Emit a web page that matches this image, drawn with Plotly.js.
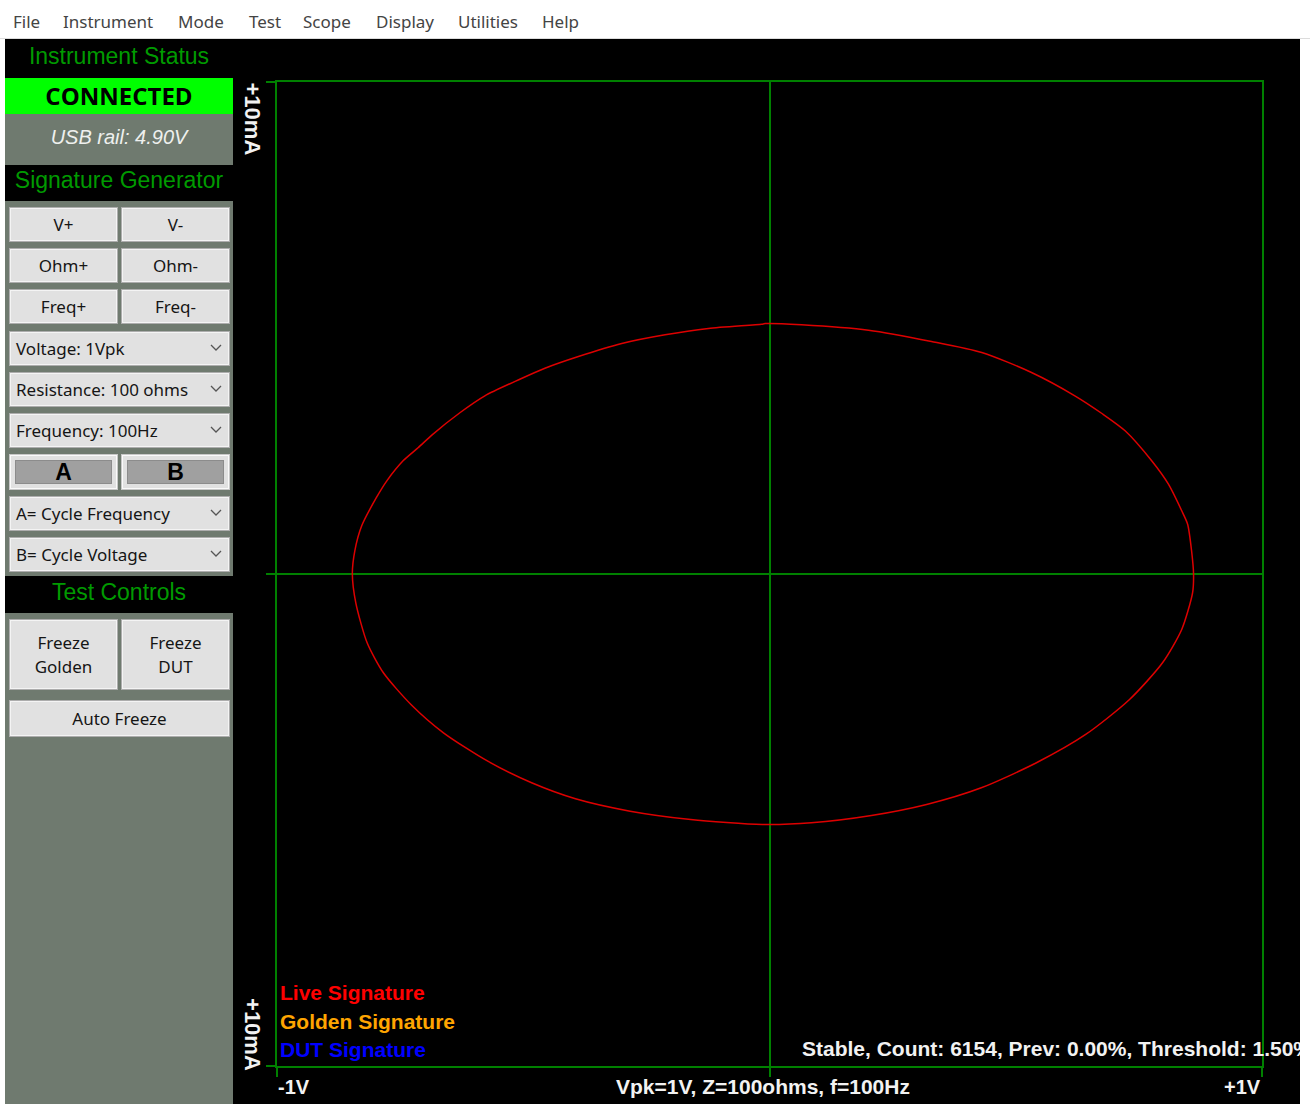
<!DOCTYPE html>
<html><head><meta charset="utf-8">
<script src="https://cdn.plot.ly/plotly-3.0.1.min.js"></script>
<style>
html,body{margin:0;padding:0;width:1310px;height:1104px;overflow:hidden;background:#fff;font-family:"Noto Sans",sans-serif;}
.abs{position:absolute;box-sizing:border-box;}
#menubar{left:0;top:0;width:1310px;height:39px;background:#fff;border-bottom:1px solid #dcdcdc;}
.menu{position:absolute;top:10px;font-size:17px;line-height:24px;color:#444;font-family:"Noto Sans",sans-serif;white-space:nowrap;}
#panel{left:5px;top:39px;width:228px;height:1065px;background:#6f7a6f;}
.hdr{background:#000;color:#009a00;font-family:"Liberation Sans",Arial,sans-serif;font-size:23px;display:flex;align-items:center;justify-content:center;white-space:nowrap;padding-bottom:5px;}
.btn{background:#e1e1e1;border:1px solid #adadad;box-shadow:inset 0 0 0 1px #f4f4f4;font-family:"Noto Sans",sans-serif;font-size:17px;color:#151515;display:flex;align-items:center;justify-content:center;text-align:center;line-height:24px;white-space:nowrap;}
.dd{justify-content:flex-start;padding-left:6px;}
.chev{position:absolute;right:7px;top:12px;}
.ab{background:#e1e1e1;border:1px solid #c8c8c8;box-shadow:inset 0 0 0 1px #fafafa;}
.abin{position:absolute;left:5px;top:5px;right:5px;bottom:5px;background:#a0a0a0;border:1px solid #8c8c8c;display:flex;align-items:center;justify-content:center;font-family:"Liberation Sans",Arial,sans-serif;font-weight:bold;font-size:23px;color:#000;}
#plot{left:233px;top:39px;width:1067px;height:1065px;background:#000;}
</style>
</head><body>
<div id="menubar" class="abs"></div>
<div id="panel" class="abs"></div>
<div id="plot" class="abs"></div>
<script>
// ---------- data ----------
const menuItems = ['File','Instrument','Mode','Test','Scope','Display','Utilities','Help'];
const panelHeaders = ['Instrument Status','Signature Generator','Test Controls'];
const statusText = 'CONNECTED';
const railText = 'USB rail: 4.90V';
const genButtons = [['V+','V-'],['Ohm+','Ohm-'],['Freq+','Freq-']];
const genDropdowns = ['Voltage: 1Vpk','Resistance: 100 ohms','Frequency: 100Hz'];
const abButtons = ['A','B'];
const cycleDropdowns = ['A= Cycle Frequency','B= Cycle Voltage'];
const testButtons = ['Freeze<br>Golden','Freeze<br>DUT'];
const autoButton = 'Auto Freeze';

// live V-I signature (volts, milliamps)
const liveVoltage = [-0.009,0.065,0.201,0.329,0.431,0.532,0.620,0.675,0.722,0.776,0.810,0.837,0.849,0.857,0.861,
  0.859,0.837,0.798,0.731,0.642,0.542,0.430,0.319,0.207,0.085,-0.015,-0.160,-0.283,-0.394,-0.483,-0.572,-0.662,-0.728,-0.784,-0.817,-0.840,-0.847,
  -0.842,-0.828,-0.798,-0.777,-0.744,-0.713,-0.685,-0.628,-0.578,-0.507,-0.456,-0.388,-0.300,-0.212,-0.124,-0.016,-0.009];
const liveCurrent = [5.09,5.065,4.955,4.726,4.502,4.096,3.622,3.262,2.911,2.301,1.825,1.285,1.012,0.472,0.0,
  -0.382,-1.128,-1.805,-2.551,-3.262,-3.837,-4.346,-4.685,-4.909,-5.057,-5.091,-4.990,-4.821,-4.569,-4.244,-3.805,-3.228,-2.652,-2.008,-1.398,-0.585,0.0,
  0.472,0.980,1.555,1.894,2.301,2.571,2.829,3.283,3.622,3.959,4.183,4.421,4.685,4.862,4.990,5.077,5.09];

const xRange = [-1, 1];
const yRange = [-10, 10];
const xTicks = [-1, 0, 1];
const yTicks = [-10, 0, 10];
const xLabels = ['-1V', 'Vpk=1V, Z=100ohms, f=100Hz', '+1V'];
const yLabels = ['+10mA', '+10mA'];
const legendLabels = ['Live Signature','Golden Signature','DUT Signature'];
const statusLine = 'Stable, Count: 6154, Prev: 0.00%, Threshold: 1.50%';

// ---------- menu ----------
const menuX = [13,63,178,249,303,376,458,542];
const mb = document.getElementById('menubar');
menuItems.forEach((m,i)=>{const d=document.createElement('div');d.className='menu';d.style.left=menuX[i]+'px';d.textContent=m;mb.appendChild(d);});

// ---------- left panel ----------
const panel = document.getElementById('panel');
function box(cls,l,t,w,h,html){const d=document.createElement('div');d.className='abs '+cls;d.style.left=l+'px';d.style.top=t+'px';d.style.width=w+'px';d.style.height=h+'px';if(html!==undefined)d.innerHTML=html;panel.appendChild(d);return d;}
const chev='<svg class="chev" width="12" height="8" viewBox="0 0 12 8"><polyline points="1,1 6,6 11,1" fill="none" stroke="#555" stroke-width="1.3"/></svg>';
// panel coords are relative to (5,39)
box('hdr',0,0,228,39,panelHeaders[0]);
const c=box('',0,39,228,36,statusText);
c.style.cssText+='background:#00ff00;display:flex;align-items:center;justify-content:center;font-family:"Open Sans",sans-serif;font-weight:bold;font-size:24px;color:#000;padding-bottom:2px;';
const r=box('',0,75,228,51,railText);
r.style.cssText+='display:flex;align-items:center;justify-content:center;font-family:"Liberation Sans",Arial,sans-serif;font-style:italic;font-size:20px;color:#eef0ee;padding-bottom:4px;';
box('hdr',0,126,228,36,panelHeaders[1]);
const rowTops=[168,209,250];
genButtons.forEach((row,i)=>{box('btn',4,rowTops[i],109,35,row[0]);box('btn',116,rowTops[i],109,35,row[1]);});
const ddTops=[292,333,374];
genDropdowns.forEach((t,i)=>{const d=box('btn dd',4,ddTops[i],221,35,t+chev);});
abButtons.forEach((t,i)=>{const d=box('ab',4+i*112,415,109,36,'');const inn=document.createElement('div');inn.className='abin';inn.textContent=t;d.appendChild(inn);});
const cTops=[457,498];
cycleDropdowns.forEach((t,i)=>{box('btn dd',4,cTops[i],221,35,t+chev);});
box('hdr',0,537,228,37,panelHeaders[2]);
testButtons.forEach((t,i)=>{box('btn',4+i*112,580,109,71,t);});
box('btn',4,661,221,37,autoButton);

// ---------- scope plot ----------
const G = '#008000';
const trace = {x: liveVoltage, y: liveCurrent, type:'scatter', mode:'lines',
  line:{color:'#dd0000', width:1.5, shape:'spline', smoothing:0.7}, hoverinfo:'skip'};
const fBold = (size,color)=>({family:'"Liberation Sans", Arial, sans-serif', size:size, color:color, weight:700});
const annotations = [
  {text:legendLabels[0], x:0.002, y:0.0742, font:fBold(21,'#ff0000')},
  {text:legendLabels[1], x:0.002, y:0.0457, font:fBold(21,'#ffa500')},
  {text:legendLabels[2], x:0.002, y:0.0163, font:fBold(21,'#0000ff')},
  {text:statusLine, x:0.532, y:0.0173, font:fBold(21,'#f2f2f2')},
  {text:xLabels[0], x:0.0, y:-0.0213, font:fBold(20,'#f2f2f2')},
  {text:xLabels[1], x:0.3431, y:-0.0213, font:fBold(21,'#f2f2f2')},
  {text:xLabels[2], x:1.0, y:-0.0213, xanchor:'right', font:fBold(20,'#f2f2f2')},
  {text:yLabels[0], x:-0.0244, y:0.9619, xanchor:'center', textangle:90, font:fBold(22,'#f2f2f2')},
  {text:yLabels[1], x:-0.0244, y:0.0315, xanchor:'center', textangle:90, font:fBold(22,'#f2f2f2')}
].map(a=>Object.assign({xref:'paper', yref:'paper', xanchor:'left', yanchor:'middle', showarrow:false, borderpad:0}, a));

const axisCommon = {showgrid:true, gridcolor:G, gridwidth:2, zeroline:false,
  showline:true, mirror:true, linecolor:G, linewidth:2,
  ticks:'outside', ticklen:9, tickwidth:2, tickcolor:G, showticklabels:false, fixedrange:true};
const layout = {
  width:1067, height:1065,
  margin:{l:44, r:38, t:43, b:38, pad:0},
  paper_bgcolor:'#000', plot_bgcolor:'#000',
  showlegend:false, hovermode:false,
  xaxis:Object.assign({range:xRange, tickvals:xTicks}, axisCommon),
  yaxis:Object.assign({range:yRange, tickvals:yTicks}, axisCommon),
  annotations:annotations
};
Plotly.newPlot('plot', [trace], layout, {staticPlot:true, displayModeBar:false});
</script>
</body></html>
